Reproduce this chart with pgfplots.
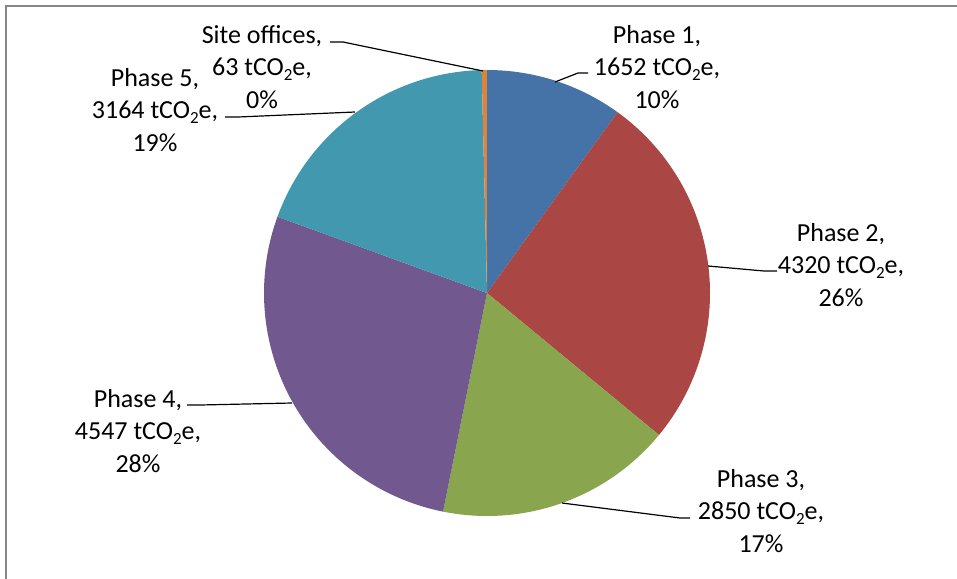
\documentclass[border=0pt]{standalone}
\usepackage{pgfplots}
\pgfplotsset{compat=1.18}
\usepackage{fontspec}
\setmainfont{Carlito}

\definecolor{cP1}{HTML}{4572A7}
\definecolor{cP2}{HTML}{AA4643}
\definecolor{cP3}{HTML}{89A54E}
\definecolor{cP4}{HTML}{71588F}
\definecolor{cP5}{HTML}{4198AF}
\definecolor{cSO}{HTML}{DB843D}
\definecolor{frame}{HTML}{868686}

% emissions per phase, tCO2e
\def\vA{1652}\def\vB{4320}\def\vC{2850}\def\vD{4547}\def\vE{3164}\def\vF{63}
% work in thousands to stay within TeX's dimension range
\pgfmathsetmacro\tot{\vA/1000+\vB/1000+\vC/1000+\vD/1000+\vE/1000+\vF/1000}
\pgfmathsetmacro\aA{90}
\pgfmathsetmacro\aB{\aA-\vA/1000/\tot*360}
\pgfmathsetmacro\aC{\aB-\vB/1000/\tot*360}
\pgfmathsetmacro\aD{\aC-\vC/1000/\tot*360}
\pgfmathsetmacro\aE{\aD-\vD/1000/\tot*360}
\pgfmathsetmacro\aF{\aE-\vE/1000/\tot*360}
\pgfmathsetmacro\aG{\aF-\vF/1000/\tot*360}
\def\R{111.5pt}
\newcommand{\co}{tCO\raisebox{-2.2pt}{\fontsize{8.5}{8.5}\selectfont 2}e}

\begin{document}
\begin{tikzpicture}
\begin{axis}[scale only axis, width=478.5pt, height=289pt,
  xmin=0, xmax=957, ymin=0, ymax=578, y dir=reverse,
  hide axis, clip=false, anchor=south west, at={(0,0)}]
\draw[frame, line width=0.7pt] (axis cs:6,600) -- (axis cs:6,6) -- (axis cs:970,6);
\fill[cP1] (axis cs:487,293) -- ++(\aA:\R) arc[start angle=\aA, end angle=\aB, radius=\R] -- cycle;
\fill[cP2] (axis cs:487,293) -- ++(\aB:\R) arc[start angle=\aB, end angle=\aC, radius=\R] -- cycle;
\fill[cP3] (axis cs:487,293) -- ++(\aC:\R) arc[start angle=\aC, end angle=\aD, radius=\R] -- cycle;
\fill[cP4] (axis cs:487,293) -- ++(\aD:\R) arc[start angle=\aD, end angle=\aE, radius=\R] -- cycle;
\fill[cP5] (axis cs:487,293) -- ++(\aE:\R) arc[start angle=\aE, end angle=\aF, radius=\R] -- cycle;
\fill[cSO] (axis cs:487,293) -- ++(\aF:\R) arc[start angle=\aF, end angle=\aG, radius=\R] -- cycle;

\begin{scope}[every node/.style={align=center, inner sep=0pt,
    font=\fontsize{13}{16.25}\selectfont}]
\node at (axis cs:657,67) {Phase 1,\\1652 \co,\\10\%};
\node at (axis cs:841,265) {Phase 2,\\4320 \co,\\26\%};
\node at (axis cs:761,511) {Phase 3,\\2850 \co,\\17\%};
\node at (axis cs:138,431) {Phase 4,\\4547 \co,\\28\%};
\node at (axis cs:155,110) {Phase 5,\\3164 \co,\\19\%};
\node at (axis cs:262,67) {Site offices,\\63 \co,\\0\%};
\end{scope}

\draw[line width=0.6pt] (axis cs:555,82) -- (axis cs:578,73) -- (axis cs:588,73);
\draw[line width=0.6pt] (axis cs:708,266) -- (axis cs:764,271) -- (axis cs:777,271);
\draw[line width=0.6pt] (axis cs:562,503) -- (axis cs:680,518) -- (axis cs:690,518);
\draw[line width=0.6pt] (axis cs:187,405) -- (axis cs:200,405) -- (axis cs:292,403);
\draw[line width=0.6pt] (axis cs:225,117) -- (axis cs:238,117) -- (axis cs:355,112);
\draw[line width=0.6pt] (axis cs:330,42) -- (axis cs:343,42) -- (axis cs:483,71);
\end{axis}
\pgfresetboundingbox
\path[use as bounding box] (0,0) rectangle (478.5pt,289pt);
\end{tikzpicture}
\end{document}
